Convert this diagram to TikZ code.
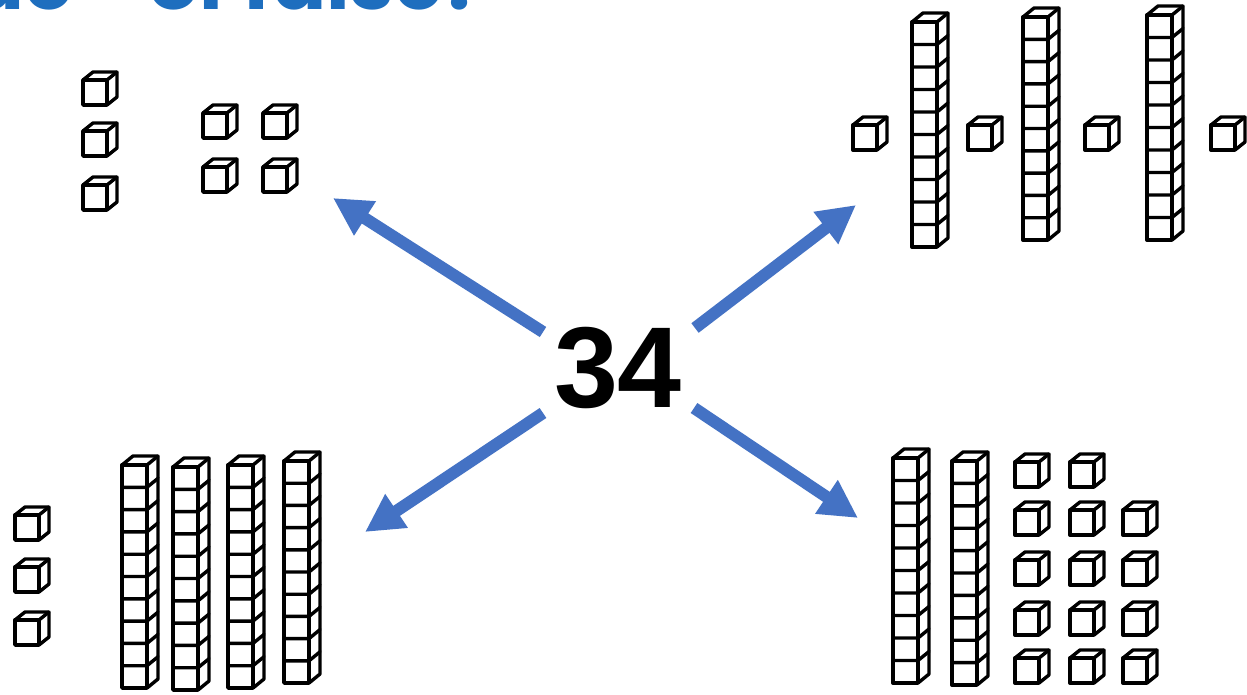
\documentclass[tikz,border=0pt]{standalone}
\usepackage{fontspec}
\setmainfont{Liberation Sans}
\newfontfamily\titlefont{Poppins}
\usetikzlibrary{arrows.meta}
\definecolor{arrowblue}{RGB}{68,114,196}
\definecolor{titleblue}{RGB}{30,110,190}
\tikzset{
  blk/.style={draw=black,line width=3.4pt,line join=round,line cap=round},
  arr/.style={draw=arrowblue,line width=12pt,-{Triangle[length=38pt,width=38pt]}},
  titletext/.style={text=titleblue,inner sep=0pt,font=\titlefont\bfseries\fontsize{80}{80}\selectfont}
}
\newcommand\mycube[2]{%
  \draw[blk] (#1,#2) rectangle ++(24,25);
  \draw[blk] (#1,#2) -- ++(10,-8) -- ++(24,0) -- ++(0,25) -- ++(-10,8);
  \draw[blk] ({#1+24},#2) -- ++(10,-8);
}
\newcommand\myrod[3]{%
  \draw[blk] (#1,#2) rectangle ++(25,#3);
  \draw[blk] (#1,#2) -- ++(11,-9) -- ++(25,0) -- ++(0,#3) -- ++(-11,9);
  \foreach \k in {0,...,9} \draw[blk] (#1,{#2+#3*\k/10}) -- ++(25,0) -- ++(11,-9);
}
\begin{document}
\begin{tikzpicture}[x=1pt,y=-1pt]
\useasboundingbox (0,0) rectangle (1247,694);
\fill[white] (0,0) rectangle (1247,694);
\begin{scope}
\clip (0,0) rectangle (1247,694);
\node[titletext,anchor=base east] (t1) at (74,9) {True};
\node[titletext,anchor=base west] (t2) at (148,9) {or};
\node[titletext,anchor=base west] (t3) at (243,9) {false?};
\end{scope}

% top-left group
\mycube{83}{80}\mycube{83}{131}\mycube{83}{185}
\mycube{203}{113}\mycube{263}{113}\mycube{203}{167}\mycube{263}{167}

% top-right group
\mycube{853}{125}\mycube{968}{125}\mycube{1085}{125}\mycube{1211}{125}
\myrod{912}{22}{225}\myrod{1023}{17}{223}\myrod{1147}{15}{225}

% bottom-left group
\mycube{15}{515}\mycube{15}{567}\mycube{15}{620}
\myrod{122}{465}{223}\myrod{173}{467}{223}\myrod{228}{465}{223}\myrod{284}{461}{222}

% bottom-right group
\myrod{893}{458}{225}\myrod{952}{461}{224}
\mycube{1015}{462}\mycube{1070}{462}
\foreach \yy in {510,560,610,658}{\mycube{1015}{\yy}\mycube{1070}{\yy}\mycube{1123}{\yy}}

% centre number
\node[font=\bfseries\fontsize{115}{115}\selectfont,inner sep=0pt,anchor=base] (n34) at (618,407) {34};

% arrows
\coordinate (nwS) at (543,332); \coordinate (nwE) at (333,198);
\coordinate (neS) at (695,328); \coordinate (neE) at (856,205);
\coordinate (swS) at (543,413); \coordinate (swE) at (365,532);
\coordinate (seS) at (694,408); \coordinate (seE) at (858,518);
\draw[arr] (nwS) -- (nwE);
\draw[arr] (neS) -- (neE);
\draw[arr] (swS) -- (swE);
\draw[arr] (seS) -- (seE);
\end{tikzpicture}
\end{document}
